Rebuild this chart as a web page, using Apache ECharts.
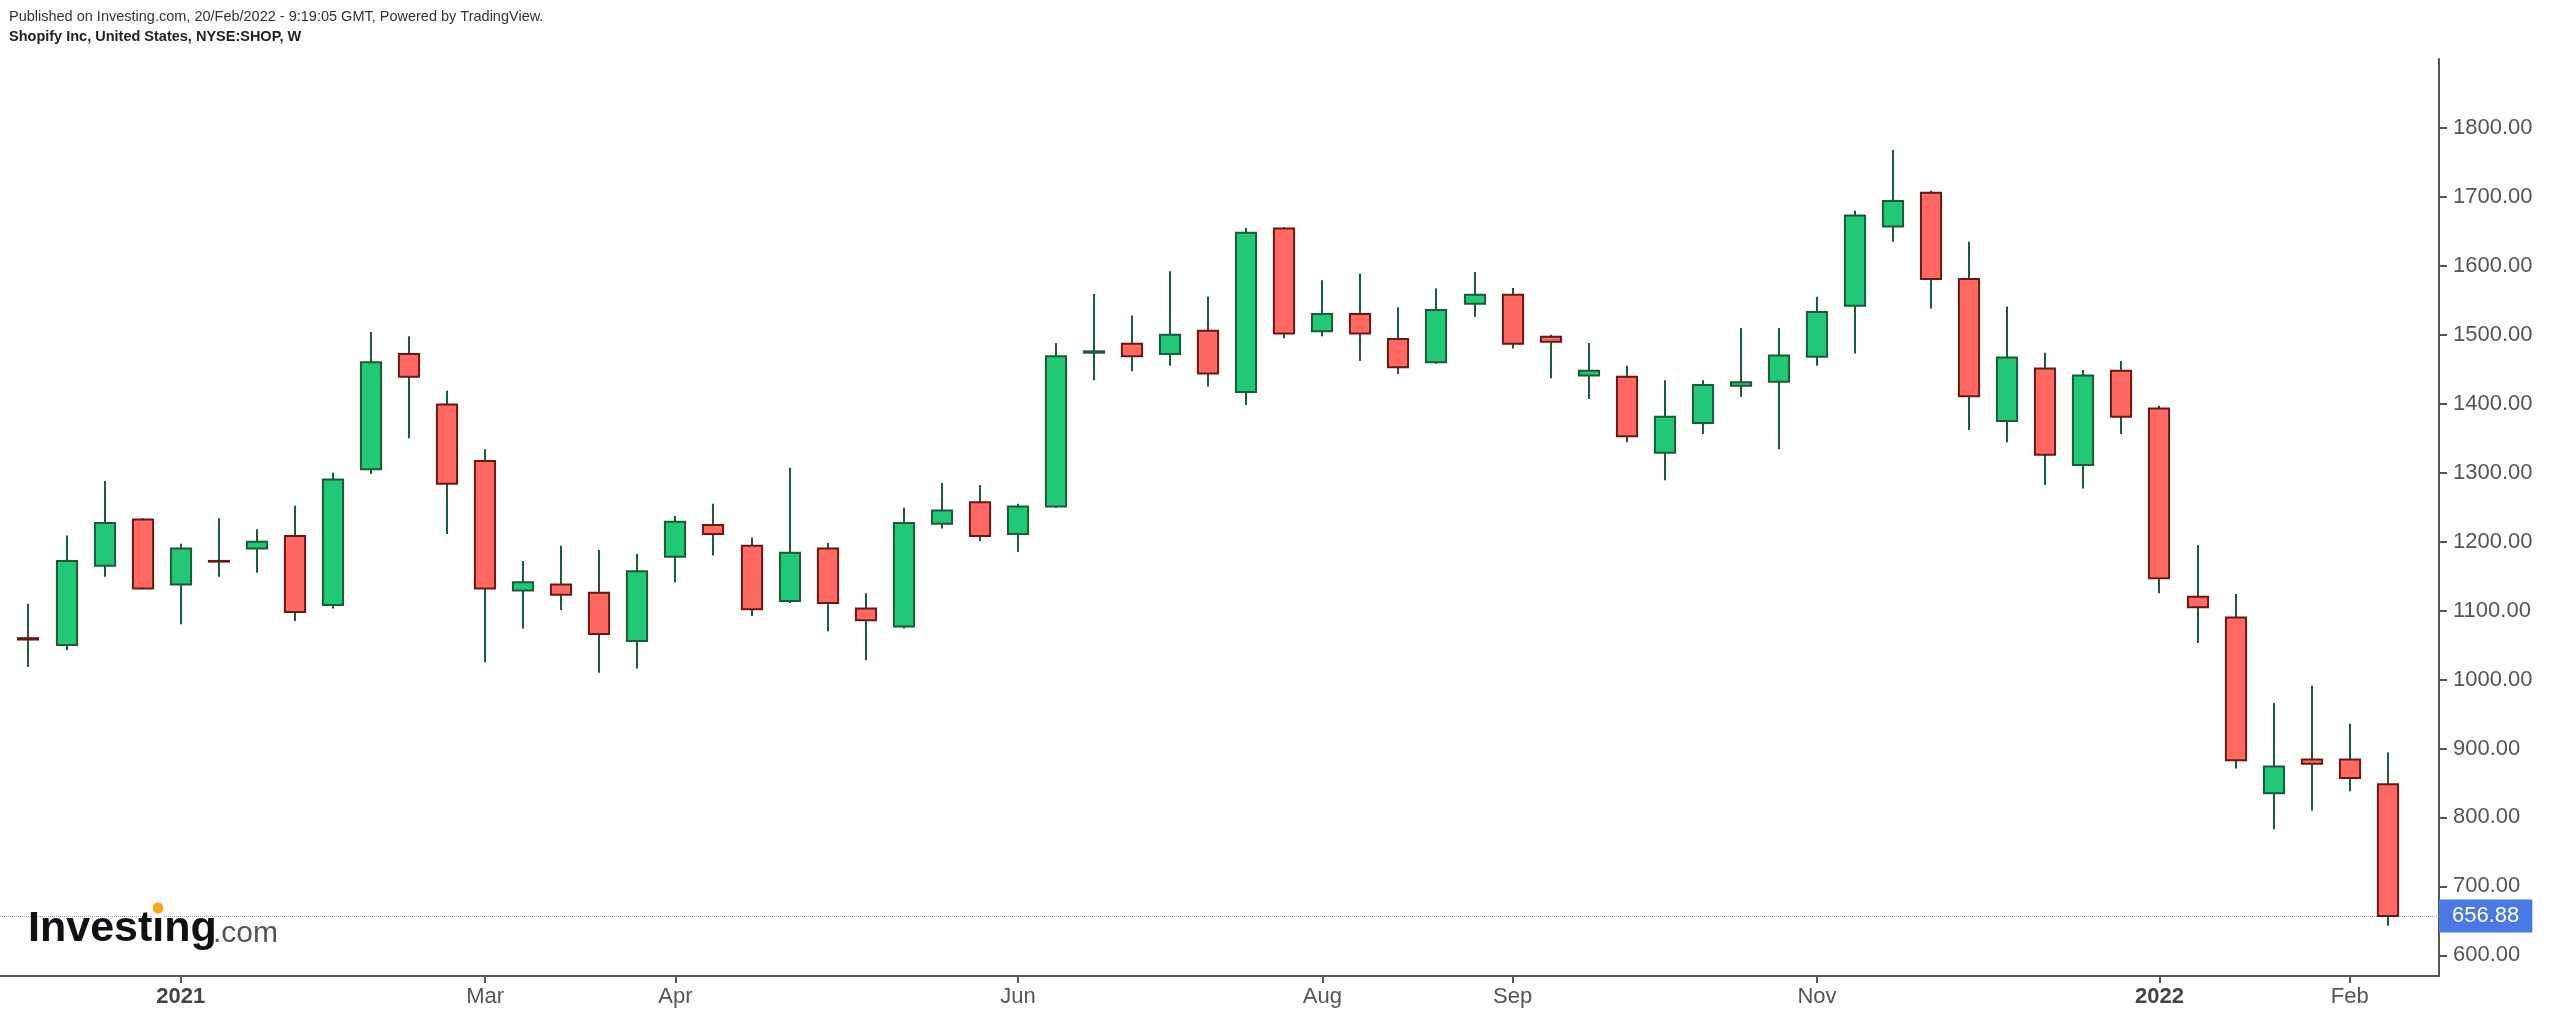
<!DOCTYPE html>
<html>
<head>
<meta charset="utf-8">
<script src="https://cdn.jsdelivr.net/npm/echarts@6/dist/echarts.min.js"></script>
<style>
html,body{margin:0;padding:0;background:#fff;}
#chart{width:2552px;height:1024px;}
</style>
</head>
<body>
<div id="chart"></div>
<script>
// Weekly candles (week starting Monday)
const weeks = [
  '2020-12-07','2020-12-14','2020-12-21','2020-12-28',
  '2021-01-04','2021-01-11','2021-01-18','2021-01-25',
  '2021-02-01','2021-02-08','2021-02-15','2021-02-22',
  '2021-03-01','2021-03-08','2021-03-15','2021-03-22','2021-03-29',
  '2021-04-05','2021-04-12','2021-04-19','2021-04-26',
  '2021-05-03','2021-05-10','2021-05-17','2021-05-24','2021-05-31',
  '2021-06-07','2021-06-14','2021-06-21','2021-06-28',
  '2021-07-05','2021-07-12','2021-07-19','2021-07-26',
  '2021-08-02','2021-08-09','2021-08-16','2021-08-23','2021-08-30',
  '2021-09-06','2021-09-13','2021-09-20','2021-09-27',
  '2021-10-04','2021-10-11','2021-10-18','2021-10-25',
  '2021-11-01','2021-11-08','2021-11-15','2021-11-22','2021-11-29',
  '2021-12-06','2021-12-13','2021-12-20','2021-12-27',
  '2022-01-03','2022-01-10','2022-01-17','2022-01-24','2022-01-31',
  '2022-02-07','2022-02-14'
];
const opens  = [1060,1050,1165,1232,1138,1172,1190,1208,1108,1305,1472,1399,1317,1129,1138,1126,1056,1178,1224,1194,1114,1190,1103,1077,1226,1257,1211,1251,1474,1487,1472,1506,1417,1654,1505,1530,1494,1460,1545,1558,1497,1441,1439,1329,1372,1426,1432,1468,1542,1657,1706,1581,1375,1451,1311,1448,1393,1120,1090,835,884,884,848];
const closes = [1058,1172,1227,1132,1190,1171,1200,1098,1290,1460,1439,1284,1132,1141,1123,1066,1157,1229,1211,1102,1184,1111,1086,1227,1245,1208,1251,1469,1476,1469,1500,1444,1648,1502,1530,1502,1453,1536,1558,1487,1490,1448,1353,1381,1427,1431,1470,1533,1673,1694,1581,1411,1467,1326,1441,1381,1147,1105,883,874,878,857,656.88];
const lows   = [1018,1043,1149,1131,1080,1149,1155,1085,1103,1298,1350,1211,1025,1074,1101,1010,1016,1141,1180,1092,1111,1070,1028,1074,1219,1201,1185,1249,1434,1447,1455,1425,1398,1495,1498,1462,1443,1458,1526,1480,1437,1407,1344,1289,1356,1410,1334,1455,1473,1635,1538,1362,1344,1282,1277,1356,1125,1053,871,783,810,838,643];
const highs  = [1110,1209,1288,1234,1197,1234,1218,1252,1300,1504,1498,1419,1334,1172,1194,1188,1182,1237,1255,1206,1307,1198,1125,1249,1285,1282,1255,1488,1559,1528,1592,1555,1655,1656,1579,1589,1540,1567,1591,1568,1500,1488,1455,1434,1434,1510,1510,1555,1680,1768,1709,1635,1541,1474,1449,1462,1397,1195,1124,966,991,936,894];
const lastPrice = 656.88;

const xTickDates  = ['2021-01-04','2021-03-01','2021-04-05','2021-06-07','2021-08-02','2021-09-06','2021-11-01','2022-01-03','2022-02-07'];
const xTickLabels = ['2021','Mar','Apr','Jun','Aug','Sep','Nov','2022','Feb'];
const yTicks = [600,700,800,900,1000,1100,1200,1300,1400,1500,1600,1700,1800];

const headerLine1 = 'Published on Investing.com, 20/Feb/2022 - 9:19:05 GMT, Powered by TradingView.';
const headerLine2 = 'Shopify Inc, United States, NYSE:SHOP, W';

const GREEN = '#22c875', GREEN_B = '#1d5a39';
const RED = '#ff6962', RED_B = '#661a17';
const WICK = '#1d5a39';
const FONT = '"Liberation Sans", Arial, sans-serif';

const tickIdx = xTickDates.map(d => weeks.indexOf(d));
const data = weeks.map((d, i) => [i, opens[i], closes[i], lows[i], highs[i]]);

function renderItem(params, api) {
  const i = api.value(0), o = api.value(1), c = api.value(2), l = api.value(3), h = api.value(4);
  const pO = api.coord([i, o]), pC = api.coord([i, c]);
  const pL = api.coord([i, l]), pH = api.coord([i, h]);
  const bw = api.size([1, 0])[0] * 0.53;
  const up = c >= o;
  const x = Math.round(pO[0]);
  const top = Math.min(pO[1], pC[1]), bot = Math.max(pO[1], pC[1]);
  return {
    type: 'group',
    children: [
      { type: 'line', shape: { x1: x, y1: pH[1], x2: x, y2: pL[1] },
        style: { stroke: WICK, lineWidth: 2 } },
      { type: 'rect', shape: { x: x - bw / 2, y: top, width: bw, height: Math.max(bot - top, 0) },
        style: { fill: up ? GREEN : RED, stroke: up ? GREEN_B : RED_B, lineWidth: 2 } }
    ]
  };
}

const chart = echarts.init(document.getElementById('chart'), null, { renderer: 'canvas' });
chart.setOption({
  animation: false,
  backgroundColor: '#ffffff',
  grid: { left: 0, right: 113, top: 59, bottom: 48, containLabel: false, outerBoundsMode: 'none' },
  xAxis: {
    type: 'value',
    min: -0.7485,
    max: 63.345,
    splitLine: { show: false },
    axisLine: { show: true, onZero: false, lineStyle: { color: '#555555', width: 2 } },
    axisTick: { show: true, customValues: tickIdx, length: 7, lineStyle: { color: '#555555', width: 2 } },
    axisLabel: {
      customValues: tickIdx,
      margin: 10,
      color: '#555555',
      fontFamily: FONT,
      fontSize: 22,
      formatter: function (v) {
        const k = tickIdx.indexOf(Math.round(v));
        if (k < 0) return '';
        const t = xTickLabels[k];
        return /^\d{4}$/.test(t) ? '{b|' + t + '}' : t;
      },
      rich: { b: { fontWeight: 'bold', color: '#444444', fontFamily: FONT, fontSize: 22 } }
    }
  },
  yAxis: {
    type: 'value',
    position: 'right',
    min: 570,
    max: 1900,
    splitLine: { show: false },
    axisLine: { show: true, onZero: false, lineStyle: { color: '#555555', width: 2 } },
    axisTick: { show: true, customValues: yTicks, length: 8, lineStyle: { color: '#555555', width: 2 } },
    axisLabel: {
      customValues: yTicks,
      margin: 14,
      color: '#555555',
      fontFamily: FONT,
      fontSize: 22,
      formatter: v => v.toFixed(2)
    }
  },
  series: [{
    type: 'custom',
    renderItem: renderItem,
    data: data,
    encode: { x: 0, y: [1, 2, 3, 4] },
    clip: false,
    z: 5,
    markLine: {
      silent: true,
      symbol: ['none', 'none'],
      lineStyle: { type: 'dotted', color: '#7f9ff0', width: 1 },
      label: {
        show: true,
        position: 'end',
        distance: 0,
        formatter: lastPrice.toFixed(2),
        color: '#ffffff',
        fontFamily: FONT,
        fontSize: 22,
        backgroundColor: '#4a78e6',
        padding: [6, 13, 5, 13]
      },
      data: [{ yAxis: lastPrice }]
    }
  }],
  graphic: [
    { type: 'text', z: 100, style: { x: 9, y: 17, text: headerLine1, font: '14.5px ' + FONT, fill: '#333333', verticalAlign: 'middle' } },
    { type: 'text', z: 100, style: { x: 9, y: 37, text: headerLine2, font: 'bold 14.5px ' + FONT, fill: '#222222', verticalAlign: 'middle' } },
    { type: 'text', z: 100, style: { x: 28, y: 929, text: 'Investing', font: 'bold 43px ' + FONT, fill: '#111111', verticalAlign: 'middle' } },
    { type: 'text', z: 100, style: { x: 213, y: 934, text: '.com', font: '30px ' + FONT, fill: '#555555', verticalAlign: 'middle' } },
    { type: 'rect', z: 101, shape: { x: 152, y: 907, width: 12, height: 11 }, style: { fill: '#ffffff' } },
    { type: 'circle', z: 102, shape: { cx: 158, cy: 908, r: 5.5 }, style: { fill: '#f7a51e' } }
  ]
});
</script>
</body>
</html>
